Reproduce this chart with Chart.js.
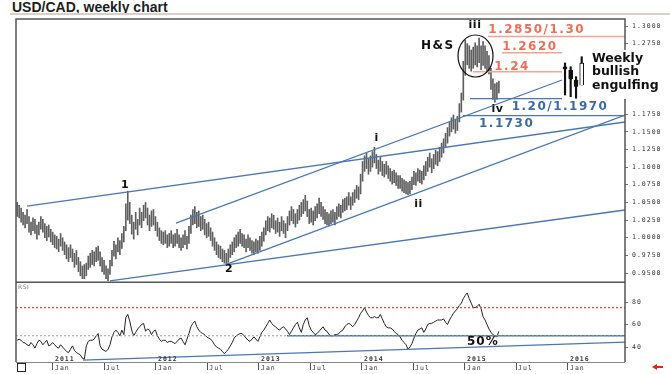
<!DOCTYPE html>
<html lang="en">
<head>
<meta charset="UTF-8">
<title>USD/CAD, weekly chart</title>
<script src="https://cdn.jsdelivr.net/npm/chart.js"></script>
<style>
    body {
        margin: 0;
        background: #fff;
        width: 670px;
        height: 374px;
        overflow: hidden;
        position: relative;
        font-family: 'Liberation Sans', Arial, sans-serif;
    }
    .title {
        position: absolute;
        left: 12px;
        top: -1px;
        font-size: 14px;
        line-height: 16px;
        font-weight: bold;
        color: #1e1e1e;
    }
    .rule {
        position: absolute;
        left: 10px;
        top: 13px;
        width: 660px;
        height: 2px;
        background: #dccfc8;
    }
    #priceChart { position: absolute; left: 0; top: 0; }
    #rsiChart { position: absolute; left: 0; top: 283px; }
</style>
</head>
<body>
<div class="title">USD/CAD, weekly chart</div>
<div class="rule"></div>
<canvas id="priceChart" width="670" height="283"></canvas>
<canvas id="rsiChart" width="670" height="91"></canvas>

<script>
    // weekly bars, first week ending 27 Aug 2010
    const firstWeek = '2010-08-27';

    const lows = [
        1.030, 1.028, 1.022, 1.018, 1.014, 1.020, 1.008, 1.004, 1.010, 1.006,
        0.998, 1.004, 1.012, 1.008, 1.000, 0.996, 1.001, 0.994, 0.990, 0.986,
        0.984, 0.980, 0.988, 0.982, 0.976, 0.970, 0.966, 0.972, 0.966, 0.958,
        0.962, 0.952, 0.946, 0.942, 0.942, 0.946, 0.955, 0.958, 0.962, 0.960,
        0.966, 0.968, 0.960, 0.952, 0.948, 0.942, 0.939, 0.948, 0.960, 0.974,
        0.970, 0.980, 0.976, 0.985, 0.994, 1.010, 1.025, 1.020, 1.005, 0.998,
        1.012, 1.004, 1.018, 1.014, 1.024, 1.028, 1.018, 1.010, 1.016, 1.018,
        1.010, 1.002, 0.996, 0.992, 0.990, 0.992, 0.986, 0.988, 0.992, 0.986,
        0.988, 0.992, 0.986, 0.982, 0.986, 0.990, 0.984, 0.992, 1.006, 1.018,
        1.020, 1.014, 1.016, 1.010, 1.012, 1.004, 1.000, 1.002, 0.996, 0.988,
        0.982, 0.976, 0.972, 0.970, 0.966, 0.964, 0.962, 0.965, 0.972, 0.976,
        0.980, 0.986, 0.988, 0.992, 0.988, 0.986, 0.980, 0.986, 0.982, 0.978,
        0.976, 0.980, 0.978, 0.982, 0.988, 0.995, 1.004, 1.010, 1.008, 1.014,
        1.012, 1.006, 1.008, 1.002, 1.010, 1.006, 1.000, 1.010, 1.018, 1.024,
        1.020, 1.015, 1.020, 1.025, 1.030, 1.034, 1.038, 1.030, 1.020, 1.022,
        1.018, 1.024, 1.028, 1.034, 1.030, 1.026, 1.020, 1.018, 1.017, 1.020,
        1.022, 1.018, 1.026, 1.030, 1.028, 1.036, 1.038, 1.040, 1.046, 1.040,
        1.046, 1.050, 1.056, 1.054, 1.062, 1.080, 1.094, 1.098, 1.090, 1.094,
        1.100, 1.106, 1.098, 1.090, 1.094, 1.088, 1.086, 1.090, 1.084, 1.080,
        1.076, 1.078, 1.074, 1.070, 1.070, 1.066, 1.064, 1.062, 1.061, 1.062,
        1.068, 1.075, 1.074, 1.080, 1.078, 1.076, 1.082, 1.088, 1.094, 1.100,
        1.092, 1.098, 1.104, 1.102, 1.108, 1.114, 1.120, 1.128, 1.134, 1.144,
        1.150, 1.154, 1.148, 1.152, 1.164, 1.178, 1.195, 1.230, 1.245, 1.240,
        1.236, 1.240, 1.245, 1.242, 1.248, 1.238, 1.244, 1.240, 1.236, 1.232,
        1.210, 1.196, 1.192, 1.196, 1.205
    ];

    const highs = [
        1.050, 1.046, 1.042, 1.036, 1.032, 1.040, 1.030, 1.022, 1.028, 1.026,
        1.018, 1.022, 1.030, 1.026, 1.020, 1.016, 1.018, 1.012, 1.008, 1.004,
        1.002, 0.998, 1.006, 1.000, 0.994, 0.990, 0.986, 0.990, 0.984, 0.978,
        0.982, 0.972, 0.966, 0.960, 0.962, 0.964, 0.974, 0.978, 0.982, 0.980,
        0.986, 0.988, 0.980, 0.972, 0.968, 0.960, 0.956, 0.968, 0.982, 0.995,
        0.990, 1.000, 0.996, 1.006, 1.016, 1.048, 1.066, 1.050, 1.032, 1.022,
        1.036, 1.026, 1.042, 1.036, 1.046, 1.050, 1.042, 1.032, 1.038, 1.040,
        1.030, 1.022, 1.014, 1.010, 1.008, 1.010, 1.004, 1.006, 1.010, 1.004,
        1.006, 1.012, 1.004, 1.000, 1.004, 1.010, 1.002, 1.016, 1.032, 1.040,
        1.044, 1.036, 1.038, 1.030, 1.032, 1.026, 1.020, 1.022, 1.014, 1.008,
        1.000, 0.994, 0.990, 0.988, 0.984, 0.982, 0.978, 0.984, 0.990, 0.994,
        1.000, 1.004, 1.008, 1.012, 1.006, 1.004, 0.998, 1.004, 1.000, 0.996,
        0.994, 0.998, 0.996, 1.002, 1.008, 1.014, 1.024, 1.030, 1.028, 1.034,
        1.032, 1.024, 1.028, 1.022, 1.030, 1.024, 1.020, 1.030, 1.038, 1.044,
        1.040, 1.034, 1.040, 1.046, 1.050, 1.054, 1.060, 1.052, 1.040, 1.042,
        1.038, 1.044, 1.048, 1.056, 1.050, 1.044, 1.040, 1.036, 1.034, 1.038,
        1.040, 1.036, 1.044, 1.048, 1.046, 1.054, 1.056, 1.058, 1.064, 1.058,
        1.064, 1.068, 1.074, 1.072, 1.090, 1.108, 1.116, 1.120, 1.112, 1.116,
        1.122, 1.128, 1.118, 1.110, 1.114, 1.108, 1.104, 1.108, 1.102, 1.098,
        1.094, 1.096, 1.092, 1.088, 1.088, 1.084, 1.082, 1.080, 1.078, 1.080,
        1.086, 1.094, 1.092, 1.098, 1.096, 1.094, 1.102, 1.108, 1.114, 1.120,
        1.112, 1.118, 1.124, 1.122, 1.128, 1.134, 1.140, 1.148, 1.156, 1.164,
        1.170, 1.174, 1.168, 1.172, 1.190, 1.205, 1.250, 1.280, 1.275, 1.272,
        1.266, 1.270, 1.276, 1.272, 1.283, 1.272, 1.278, 1.272, 1.264, 1.258,
        1.240, 1.225, 1.218, 1.220, 1.222
    ];

    const rsi = [
        46, 47, 46, 44, 43.6, 42, 41, 44, 42, 39,
        43, 46, 45, 42, 44, 46, 41, 42, 44, 42,
        40, 39, 42, 40, 38, 36, 35, 38, 41, 37,
        35, 34, 33, 30, 29, 41, 45, 46, 46, 47,
        50, 52, 41, 38, 37, 36, 38, 42, 49, 53,
        55, 53, 50, 55, 51, 66, 69, 63, 55, 50,
        53, 56, 58, 60, 61, 54, 56, 55, 51, 54,
        55, 50, 47, 45, 46, 46, 44, 45, 45, 44,
        43, 45, 47, 48, 45, 42, 47, 52, 58, 61,
        63, 58, 55, 53, 52, 51, 49, 48, 47, 45,
        42, 40, 39, 38, 36, 34, 36, 38, 41, 44,
        48, 50, 51, 52, 52, 50, 48, 46, 45, 47,
        49, 47, 45, 49, 53, 55, 58, 61, 64, 61,
        59, 58, 56, 55, 57, 58, 56, 54, 51, 54,
        57, 60, 62, 57, 53, 60, 64, 66, 59, 55,
        53, 51, 52, 54, 56, 58, 55, 54, 51, 50,
        50, 51, 51, 52, 54, 55, 58, 60, 61, 60,
        58, 60, 63, 66, 70, 72, 75, 71, 68, 66,
        66, 67, 66, 66, 69, 65, 61, 58, 57, 57,
        56, 54, 52, 51, 49, 46, 44, 42, 38, 40,
        43, 48, 52, 55, 56, 57, 53, 56, 60, 61,
        61, 62, 63, 64, 64, 64, 65, 62, 60, 64,
        67, 70, 72, 74, 77, 79, 83, 86, 88, 83,
        79, 75, 75, 76, 78, 74, 67, 64, 60, 56,
        53, 51, 50, 49, 54
    ];

    // candle sketch next to "Weekly bullish engulfing"
    const candleX = [2015.971, 2016.026, 2016.078, 2016.133];
    const candleOpen = [1.2423, 1.2377, 1.2235, 1.2164];
    const candleHigh = [1.2476, 1.2423, 1.2282, 1.2565];
    const candleLow = [1.2022, 1.1998, 1.1976, 1.2164];
    const candleClose = [1.2386, 1.2245, 1.2140, 1.2476];

    // trend lines [x1, y1, x2, y2] in (year, price)
    const trendLines = [
        [2010.748, 1.0449, 2016.553, 1.1640],
        [2012.194, 1.0208, 2015.942, 1.2235],
        [2012.689, 0.9627, 2016.553, 1.1739],
        [2011.553, 0.9387, 2016.553, 1.0393]
    ];
    // horizontal levels [price, from, to]
    const supportLevels = [[1.1730, 2014.981, 2016.553], [1.1970, 2015.049, 2015.942]];
    const resistLevels = [[1.2850, 2015.223, 2016.553], [1.2620, 2015.359, 2015.942], [1.2350, 2015.078, 2015.942]];

    // RSI guides and trend lines
    const rsiGuides = [75, 50];
    const rsiLines = [
        [2013.272, 50, 2016.553, 50],
        [2011.291, 28.4, 2016.553, 44.4]
    ];

    const priceTicks = [0.95, 0.975, 1.0, 1.025, 1.05, 1.075, 1.1, 1.125, 1.15, 1.175, 1.2, 1.225, 1.25, 1.275, 1.3];
    const rsiTicks = [40, 60, 80];
    const monthTicks = ['2011-01-01', '2011-07-01', '2012-01-01', '2012-07-01', '2013-01-01', '2013-07-01',
        '2014-01-01', '2014-07-01', '2015-01-01', '2015-07-01', '2016-01-01'];

    function decYear(t) {
        const y = new Date(t).getUTCFullYear();
        const a = Date.UTC(y, 0, 1), b = Date.UTC(y + 1, 0, 1);
        return y + (t - a) / (b - a);
    }
    const startT = Date.parse(firstWeek + 'T00:00:00Z');
    const weekX = lows.map((_, i) => decYear(startT + i * 7 * 864e5));
    const monthX = monthTicks.map(d => decYear(Date.parse(d + 'T00:00:00Z')));

    const xMin = 2010.6408, xMax = 2016.5534;
    const BLUE = '#4a78b4';
    const RED = '#ee6f57';
    const monoFont = { family: 'DejaVu Sans Mono', size: 6.5 };

    const spacing = {
        id: 'spacing',
        beforeLayout(chart) { chart.ctx.letterSpacing = '1px'; },
        beforeDraw(chart) { chart.ctx.letterSpacing = '1px'; }
    };

    function text(ctx, str, x, y, font, color, align, spacingPx) {
        ctx.save();
        ctx.letterSpacing = (spacingPx || 0) + 'px';
        ctx.font = font;
        ctx.fillStyle = color;
        ctx.textAlign = align || 'left';
        ctx.textBaseline = 'middle';
        ctx.fillText(str, x, y);
        ctx.restore();
    }

    // price panel overlays
    const priceNotes = {
        id: 'priceNotes',
        afterDraw(chart) {
            const ctx = chart.ctx, a = chart.chartArea;
            const sx = chart.scales.x, sy = chart.scales.y;
            const px = v => sx.getPixelForValue(v), py = v => sy.getPixelForValue(v);

            ctx.save();
            ctx.strokeStyle = '#555';
            ctx.lineWidth = 1.5;
            ctx.strokeRect(a.left, a.top, a.right - a.left, a.bottom - a.top);
            ctx.beginPath();
            ctx.lineWidth = 2;
            ctx.moveTo(a.left, a.bottom - 0.5);
            ctx.lineTo(a.right, a.bottom - 0.5);
            ctx.stroke();
            ctx.restore();

            // head and shoulders circle
            ctx.save();
            ctx.strokeStyle = '#111';
            ctx.lineWidth = 1.2;
            ctx.beginPath();
            ctx.ellipse(px(2015.102), py(1.2575), 17.5, 21, 0, 0, Math.PI * 2);
            ctx.stroke();
            ctx.restore();

            const bold = s => 'bold ' + s + 'px "DejaVu Sans"';
            [['1', 2011.699, 1.0740], ['2', 2012.709, 0.9550], ['i', 2014.141, 1.1413],
             ['ii', 2014.549, 1.0478], ['iii', 2015.097, 1.3007], ['iv', 2015.316, 1.1824]]
                .forEach(([s, x, y]) => text(ctx, s, px(x), py(y), bold(11), '#111', 'center', 0.5));

            text(ctx, 'H&S', px(2014.573), py(1.2724), bold(12), '#111', 'left', 1.5);
            text(ctx, '1.2850/1.30', px(2015.226), py(1.2939), bold(12), RED, 'left', 1.5);
            text(ctx, '1.2620', px(2015.362), py(1.2702), bold(12), RED, 'left', 1.5);
            text(ctx, '1.24', px(2015.284), py(1.2426), bold(12), RED, 'left', 1.5);
            text(ctx, '1.20/1.1970', px(2015.453), py(1.1852), bold(12), '#3d6aa3', 'left', 1.5);
            text(ctx, '1.1730', px(2015.136), py(1.1611), bold(12), '#3d6aa3', 'left', 1.5);

            // weekly bullish engulfing note on white
            const tx = px(2016.233);
            const lines = [['Weekly', 1.2486], ['bullish', 1.2299], ['engulfing', 1.2114]];
            ctx.save();
            ctx.fillStyle = '#fff';
            ctx.fillRect(tx - 4, py(1.266), chart.width - 2 - (tx - 4), py(1.1966) - py(1.266));
            ctx.restore();
            lines.forEach(([s, y]) => {
                ctx.save();
                ctx.letterSpacing = '0px';
                ctx.font = bold(12.5);
                ctx.fillStyle = '#111';
                ctx.textBaseline = 'alphabetic';
                ctx.fillText(s, tx, py(y));
                ctx.restore();
            });
        }
    };

    // RSI panel overlays
    const rsiNotes = {
        id: 'rsiNotes',
        afterDraw(chart) {
            const ctx = chart.ctx, a = chart.chartArea;
            const sx = chart.scales.x, sy = chart.scales.y;

            ctx.save();
            ctx.strokeStyle = '#555';
            ctx.lineWidth = 1.5;
            ctx.beginPath();
            ctx.moveTo(a.left, a.top);
            ctx.lineTo(a.left, a.bottom);
            ctx.moveTo(a.right, a.top);
            ctx.lineTo(a.right, a.bottom);
            ctx.stroke();
            ctx.strokeStyle = '#888';
            ctx.lineWidth = 1;
            ctx.beginPath();
            ctx.moveTo(a.left, a.bottom + 0.5);
            ctx.lineTo(a.right, a.bottom + 0.5);
            ctx.stroke();
            ctx.restore();

            text(ctx, 'RSI', a.left + 2, a.top + 4, '6px "DejaVu Sans"', '#777', 'left', 0.5);
            text(ctx, '50%', sx.getPixelForValue(2015.019), sy.getPixelForValue(44.4),
                'bold 12px "DejaVu Sans"', '#111', 'left', 1);

            // month and year labels
            monthX.forEach((v, i) => {
                const x = sx.getPixelForValue(v);
                const isJan = monthTicks[i].slice(5, 7) === '01';
                text(ctx, isJan ? 'Jan' : 'Jul', x + 2, a.bottom + 6, '6.5px "DejaVu Sans Mono"', '#333', 'left', 1);
                if (isJan) {
                    text(ctx, monthTicks[i].slice(0, 4), x + 2, a.bottom - 2.5,
                        'bold 6.5px "DejaVu Sans Mono"', '#333', 'left', 1);
                }
            });

            // corner marks
            ctx.save();
            ctx.fillStyle = '#fff';
            ctx.strokeStyle = '#222';
            ctx.lineWidth = 1;
            ctx.fillRect(a.left + 1, a.bottom + 1, 8, 8);
            ctx.strokeRect(a.left + 1.5, a.bottom + 1.5, 8, 8);
            ctx.fillStyle = '#e8231b';
            ctx.beginPath();
            ctx.moveTo(652, a.bottom + 5);
            ctx.lineTo(657, a.bottom + 2);
            ctx.lineTo(657, a.bottom + 4);
            ctx.lineTo(663, a.bottom + 4);
            ctx.lineTo(663, a.bottom + 6);
            ctx.lineTo(657, a.bottom + 6);
            ctx.lineTo(657, a.bottom + 8);
            ctx.closePath();
            ctx.fill();
            ctx.restore();
        }
    };

    const segment = ([x1, y1, x2, y2], color, width, dash) => ({
        type: 'line',
        data: [{ x: x1, y: y1 }, { x: x2, y: y2 }],
        borderColor: color,
        borderWidth: width,
        borderDash: dash || [],
        pointRadius: 0,
        order: 0
    });

    // Price chart
    new Chart(document.getElementById('priceChart'), {
        type: 'bar',
        data: {
            datasets: [
                {
                    label: 'USD/CAD',
                    data: weekX.map((x, i) => ({ x, y: [lows[i], highs[i]] })),
                    backgroundColor: '#5e5e5e',
                    barThickness: 1,
                    grouped: false,
                    order: 2
                },
                {
                    label: 'wick',
                    data: candleX.map((x, i) => ({ x, y: [candleLow[i], candleHigh[i]] })),
                    backgroundColor: '#111',
                    barThickness: 1.5,
                    grouped: false,
                    order: 1
                },
                {
                    label: 'body',
                    data: candleX.map((x, i) => ({ x, y: [Math.min(candleOpen[i], candleClose[i]), Math.max(candleOpen[i], candleClose[i])] })),
                    backgroundColor: candleX.map((_, i) => candleClose[i] > candleOpen[i] ? '#fff' : '#111'),
                    borderColor: '#111',
                    borderWidth: 1,
                    barThickness: 4,
                    grouped: false,
                    order: 0
                },
                ...trendLines.map(l => segment(l, BLUE, 1.3)),
                ...supportLevels.map(([p, a, b]) => segment([a, p, b, p], BLUE, 1.3)),
                ...resistLevels.map(([p, a, b]) => segment([a, p, b, p], '#f4a394', 1.5))
            ]
        },
        options: {
            responsive: false,
            animation: false,
            events: [],
            layout: { padding: { left: 16, top: 19, right: 0, bottom: 0 } },
            plugins: { legend: { display: false }, tooltip: { enabled: false } },
            scales: {
                x: { type: 'linear', min: xMin, max: xMax, offset: false, display: false },
                y: {
                    position: 'right',
                    min: 0.93583,
                    max: 1.30992,
                    afterBuildTicks: s => { s.ticks = priceTicks.map(v => ({ value: v })); },
                    afterFit: s => { s.width = 45; s.paddingTop = 0; s.paddingBottom = 0; },
                    grid: { drawOnChartArea: false, drawTicks: true, tickLength: 3, color: '#777' },
                    border: { display: false },
                    ticks: { padding: 4, color: '#333', font: monoFont, callback: v => v.toFixed(4) }
                }
            }
        },
        plugins: [spacing, priceNotes]
    });

    // RSI chart
    new Chart(document.getElementById('rsiChart'), {
        type: 'line',
        data: {
            datasets: [
                {
                    label: 'RSI',
                    data: weekX.map((x, i) => ({ x, y: rsi[i] })),
                    borderColor: '#222',
                    borderWidth: 1,
                    pointRadius: 0,
                    order: 1
                },
                segment([xMin, rsiGuides[0], xMax, rsiGuides[0]], '#f03c3c', 1.2, [2, 2]),
                segment([xMin, rsiGuides[1], xMax, rsiGuides[1]], '#9a9a9a', 1, [2, 2]),
                ...rsiLines.map(l => segment(l, BLUE, 1.3))
            ]
        },
        options: {
            responsive: false,
            animation: false,
            events: [],
            layout: { padding: { left: 16, top: 0, right: 0, bottom: 0 } },
            plugins: { legend: { display: false }, tooltip: { enabled: false } },
            scales: {
                x: {
                    type: 'linear', min: xMin, max: xMax, offset: false,
                    afterBuildTicks: s => { s.ticks = monthX.map(v => ({ value: v })); },
                    afterFit: s => { s.height = 12; s.paddingLeft = 0; s.paddingRight = 0; },
                    grid: { drawOnChartArea: false, drawTicks: true, tickLength: 8, color: '#555' },
                    border: { display: false },
                    ticks: { display: false }
                },
                y: {
                    position: 'right',
                    min: 26.67,
                    max: 96.89,
                    afterBuildTicks: s => { s.ticks = rsiTicks.map(v => ({ value: v })); },
                    afterFit: s => { s.width = 45; s.paddingTop = 0; s.paddingBottom = 0; },
                    grid: { drawOnChartArea: false, drawTicks: true, tickLength: 3, color: '#777' },
                    border: { display: false },
                    ticks: { padding: 4, color: '#333', font: monoFont }
                }
            }
        },
        plugins: [spacing, rsiNotes]
    });
</script>
</body>
</html>
